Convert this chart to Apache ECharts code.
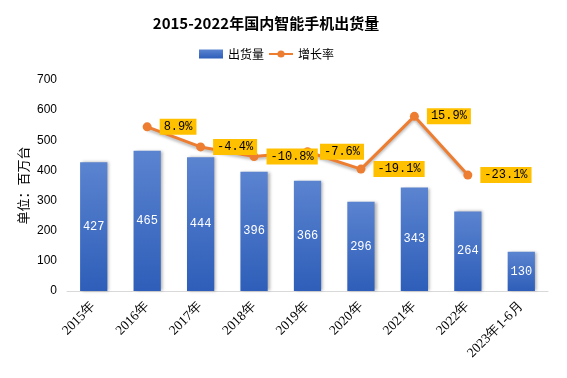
<!DOCTYPE html>
<html><head><meta charset="utf-8">
<script src="https://cdn.jsdelivr.net/npm/echarts@6/dist/echarts.min.js"></script>
<style>html,body{margin:0;padding:0;background:#fff}#c{width:567px;height:378px}</style>
</head><body><div id="c"></div>
<script>
var categories = ['2015年','2016年','2017年','2018年','2019年','2020年','2021年','2022年','2023年1-6月'];
var shipments = [427, 465, 444, 396, 366, 296, 343, 264, 130];
var growth = [null, 8.9, -4.4, -10.8, -7.6, -19.1, 15.9, -23.1, null];
var yTicks = [0, 100, 200, 300, 400, 500, 600, 700];

var chart = echarts.init(document.getElementById('c'));
chart.setOption({
  animation: false,
  title: {
    text: '2015-2022年国内智能手机出货量',
    left: 261, top: 11, textAlign: 'center',
    textStyle: {fontFamily: 'Noto Sans CJK SC', fontSize: 15, fontWeight: 'bold', color: '#000'}
  },
  legend: {
    top: 43, left: 194, itemGap: 4, itemWidth: 24, itemHeight: 9,
    textStyle: {fontFamily: 'Noto Sans CJK SC', fontSize: 12, color: '#000'},
    data: [{name: '出货量', icon: 'rect'}, {name: '增长率'}]
  },
  grid: {left: 67, right: 19, top: 80, bottom: 87},
  xAxis: {
    type: 'category', data: categories,
    axisLine: {lineStyle: {color: '#d9d9d9', width: 1}},
    axisTick: {show: false},
    axisLabel: {rotate: 45, interval: 0, fontFamily: 'Liberation Serif', fontSize: 13.5, color: '#000', margin: 13}
  },
  yAxis: [{
    type: 'value', min: yTicks[0], max: yTicks[yTicks.length-1], interval: 100,
    name: '单位：百万台', nameLocation: 'middle', nameGap: 37, nameRotate: 90, nameMoveOverlap: false,
    nameTextStyle: {fontFamily: 'Noto Sans CJK SC', fontSize: 13, color: '#000'},
    axisLine: {show: false}, axisTick: {show: false}, splitLine: {show: false},
    axisLabel: {fontFamily: 'Liberation Sans', fontSize: 12, color: '#000', margin: 10}
  }, {
    type: 'value', min: -100, max: 40, interval: 20, show: false, splitLine: {show: false}
  }],
  series: [{
    name: '出货量', type: 'bar', data: shipments, barWidth: '51%',
    itemStyle: {
      color: new echarts.graphic.LinearGradient(0, 0, 0, 1, [
        {offset: 0, color: '#5B84D0'}, {offset: 1, color: '#2E5EB9'}
      ]),
      shadowColor: 'rgba(0,0,0,0.3)', shadowBlur: 3, shadowOffsetX: 2
    },
    label: {show: true, position: 'inside', color: '#fff', fontFamily: 'Liberation Mono', fontSize: 12}
  }, {
    name: '增长率', type: 'line', yAxisIndex: 1, data: growth,
    color: '#ED7D31',
    lineStyle: {width: 3, color: '#ED7D31', shadowColor: 'rgba(0,0,0,0.3)', shadowBlur: 3, shadowOffsetY: 2},
    symbol: 'circle', symbolSize: 9,
    itemStyle: {color: '#ED7D31'},
    label: {
      show: true, position: 'right', distance: 8,
      formatter: function (p) { return p.value.toFixed(1) + '%'; },
      backgroundColor: '#FFC000', color: '#000', padding: [2, 4, 2, 4],
      fontFamily: 'Liberation Mono', fontSize: 12
    }
  }]
});
</script></body></html>
